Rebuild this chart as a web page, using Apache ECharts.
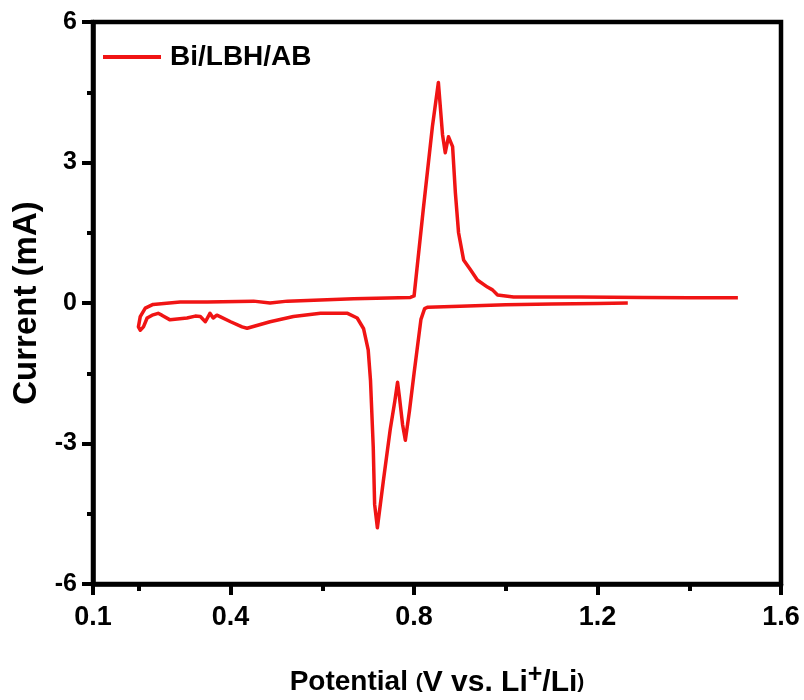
<!DOCTYPE html>
<html>
<head>
<meta charset="utf-8">
<script src="https://cdn.jsdelivr.net/npm/echarts@6/dist/echarts.min.js"></script>
<style>html,body{margin:0;padding:0;background:#fff}#c{width:804px;height:700px}</style>
</head>
<body>
<div id="c"></div>
<script>
const seriesName = 'Bi/LBH/AB';
const potential = [1.266,1.20,1.10,1.00,0.90,0.83,0.823,0.815,0.80,0.79,0.781,0.775,0.768,0.764,0.758,0.748,0.733,0.72,0.714,0.711,0.705,0.70,0.69,0.676,0.655,0.596,0.537,0.486,0.436,0.425,0.40,0.377,0.37,0.362,0.355,0.345,0.334,0.323,0.305,0.268,0.25,0.242,0.229,0.218,0.21,0.203,0.199,0.203,0.214,0.231,0.29,0.349,0.45,0.486,0.524,0.668,0.792,0.80,0.82,0.84,0.853,0.862,0.868,0.875,0.884,0.89,0.897,0.908,0.923,0.938,0.96,0.971,0.982,1.017,1.163,1.30,1.40,1.506];
const current = [0.00,-0.01,-0.02,-0.04,-0.07,-0.09,-0.12,-0.35,-1.50,-2.30,-2.93,-2.60,-2.00,-1.69,-2.10,-2.70,-3.80,-4.80,-4.30,-3.08,-1.65,-1.00,-0.55,-0.32,-0.22,-0.22,-0.29,-0.40,-0.54,-0.51,-0.40,-0.29,-0.26,-0.32,-0.22,-0.40,-0.29,-0.28,-0.32,-0.36,-0.26,-0.22,-0.26,-0.32,-0.51,-0.58,-0.51,-0.29,-0.11,-0.03,0.02,0.02,0.04,0.00,0.04,0.09,0.12,0.15,1.99,3.77,4.71,3.60,3.21,3.55,3.34,2.36,1.50,0.92,0.71,0.49,0.34,0.28,0.17,0.13,0.13,0.12,0.11,0.11];
const xMajorTicks = [0.1,0.4,0.8,1.2,1.6];
const xMinorTicks = [0.2,0.6,1.0,1.4];

const FONT = '"Liberation Sans",Arial,sans-serif';
const red = '#f01414';

const chart = echarts.init(document.getElementById('c'));
chart.setOption({
  animation: false,
  grid: {left: 93, right: 23, top: 22, bottom: 116, outerBoundsMode: 'none', containLabel: false,
    show: true, borderColor: '#000', borderWidth: 4.5, backgroundColor: 'transparent'},
  legend: {
    left: 98, top: 38, icon: 'rect', itemWidth: 58, itemHeight: 4, itemGap: 10,
    textStyle: {fontFamily: FONT, fontWeight: 'bold', fontSize: 28, color: '#000', padding: [0,0,0,4]},
    data: [seriesName]
  },
  xAxis: [{
    type: 'value', min: 0.1, max: 1.6,
    axisLine: {show: true, onZero: false, lineStyle: {color: '#000', width: 4.5}},
    axisTick: {show: true, length: 11, lineStyle: {width: 4, color: '#000'}, customValues: xMajorTicks},
    axisLabel: {customValues: xMajorTicks, margin: 20, fontFamily: FONT, fontWeight: 'bold', fontSize: 27, color: '#000',
      formatter: v => v.toFixed(1)},
    splitLine: {show: false},
    name: '{a|Potential }{p|(}{b|V vs. Li}{s|+}{b|/Li}{p|)}',
    nameLocation: 'middle', nameGap: 79,
    nameTextStyle: {rich: {
      a: {fontFamily: FONT, fontWeight: 'bold', fontSize: 28, color: '#000'},
      b: {fontFamily: FONT, fontWeight: 'bold', fontSize: 30, color: '#000'},
      p: {fontFamily: FONT, fontWeight: 'bold', fontSize: 21, color: '#000'},
      s: {fontFamily: FONT, fontWeight: 'bold', fontSize: 25, color: '#000', verticalAlign: 'top', padding: [0,0,14,0]}
    }}
  }, {
    type: 'value', min: 0.1, max: 1.6, position: 'bottom',
    axisLine: {show: false, onZero: false},
    axisTick: {show: true, length: 7, lineStyle: {width: 4, color: '#000'}, customValues: xMinorTicks},
    axisLabel: {show: false},
    splitLine: {show: false}
  }],
  yAxis: {
    type: 'value', min: -6, max: 6, interval: 3,
    axisLine: {show: true, onZero: false, lineStyle: {color: '#000', width: 4.5}},
    axisTick: {show: true, length: 11, lineStyle: {width: 4, color: '#000'}},
    minorTick: {show: true, splitNumber: 2, length: 6, lineStyle: {width: 4, color: '#000'}},
    axisLabel: {margin: 16, fontFamily: FONT, fontWeight: 'bold', fontSize: 25, color: '#000'},
    splitLine: {show: false},
    name: 'Current (mA)', nameLocation: 'middle', nameGap: 49,
    nameTextStyle: {fontFamily: FONT, fontWeight: 'bold', fontSize: 33, color: '#000'}
  },
  series: [{
    name: seriesName, type: 'line', xAxisIndex: 0,
    data: potential.map((p, i) => [p, current[i]]),
    showSymbol: false, symbol: 'none',
    lineStyle: {color: red, width: 3.5, join: 'round'},
    itemStyle: {color: red}
  }]
});
</script>
</body>
</html>
